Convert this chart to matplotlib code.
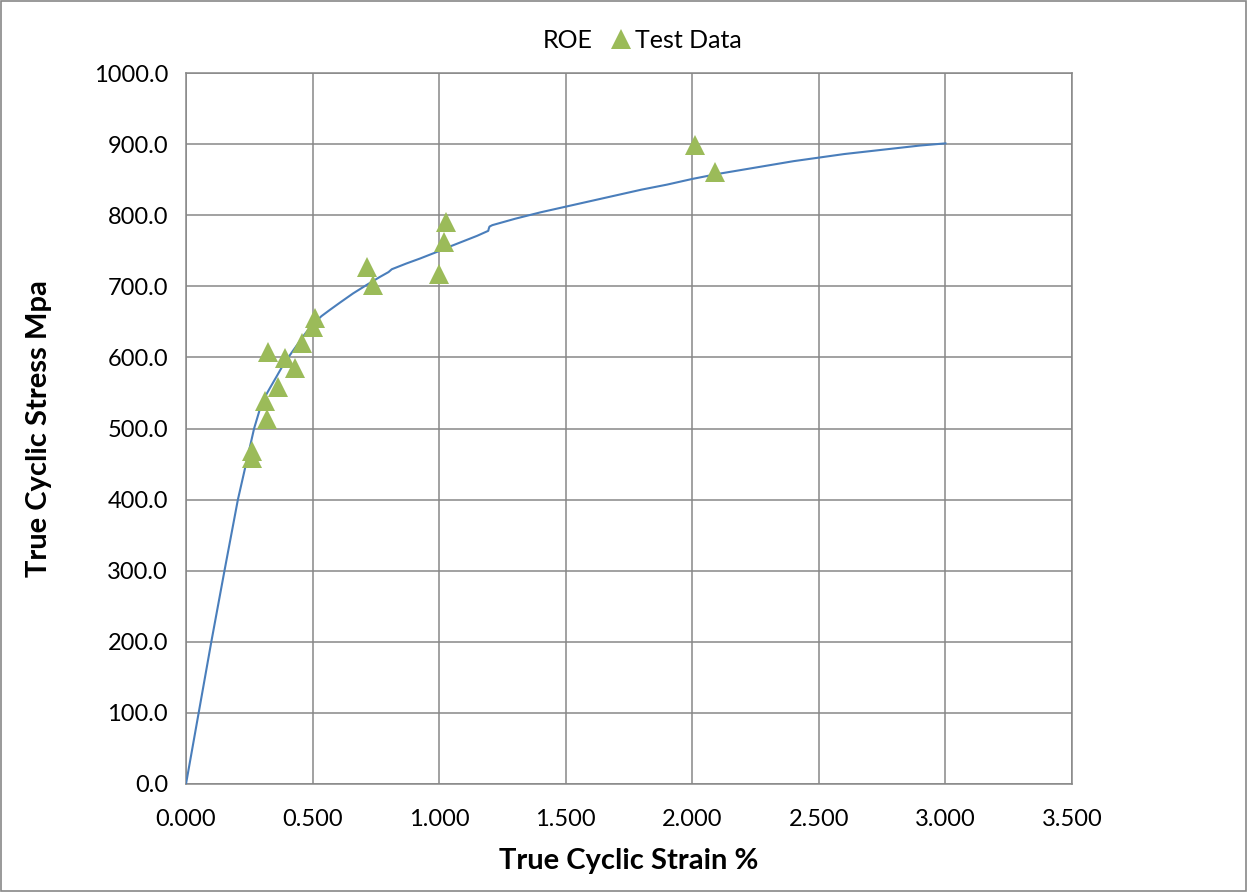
import matplotlib.pyplot as plt
from matplotlib.lines import Line2D
from matplotlib.patches import Rectangle
from matplotlib.ticker import FormatStrFormatter, MultipleLocator

plt.rcParams['font.family'] = ['Lato', 'DejaVu Sans']

# ROE curve, strain % / stress MPa
roe_strain = [0.0, 0.05, 0.10, 0.152, 0.205, 0.237, 0.269, 0.29, 0.308,
              0.33, 0.356, 0.38, 0.41, 0.44, 0.47, 0.50, 0.535, 0.569, 0.608,
              0.66, 0.714, 0.765, 0.80, 0.813,
              0.87, 0.924, 1.003, 1.05, 1.10, 1.15, 1.194,
              1.196, 1.199, 1.21, 1.3, 1.4, 1.5, 1.6, 1.7, 1.8, 1.9,
              2.0, 2.1, 2.2, 2.3, 2.4, 2.5, 2.6, 2.7, 2.8, 2.9, 3.0]
roe_stress = [0, 100, 200, 300, 400, 450, 500, 525, 542,
              556, 572, 587, 603, 618, 633, 646, 658, 667, 677,
              690, 702, 713, 720, 724,
              732, 739, 750, 757, 764, 771, 778,
              781, 784, 786, 795, 804, 812, 820, 828, 836, 843,
              851, 858, 864, 870, 876, 881, 886, 890, 894, 898, 901]

# test data points
test_strain = [0.262, 0.262, 0.319, 0.312, 0.365, 0.323, 0.391, 0.431, 0.457, 0.503,
               0.51, 0.716, 0.740, 1.001, 1.019, 1.027, 2.011, 2.090]
test_stress = [468, 458, 513, 538, 559, 607, 599, 585, 620, 643,
               656, 727, 702, 718, 763, 791, 899, 861]

line_col = '#4A7EBB'
mark_col = '#9BBB59'
grid_col = '#878787'

fig = plt.figure(figsize=(12.47, 8.92), dpi=100)
ax = fig.add_axes([186/1247, 1-784/892, (1072-186)/1247, (784-73)/892])

ax.plot(roe_strain, roe_stress, color=line_col, linewidth=1.5, zorder=3)
ax.plot(test_strain, test_stress, linestyle='none', marker='^', markersize=14,
        color=mark_col, markeredgewidth=0, zorder=4)

ax.set_xlim(0, 3.5)
ax.set_ylim(0, 1000)
ax.xaxis.set_major_locator(MultipleLocator(0.5))
ax.yaxis.set_major_locator(MultipleLocator(100))
ax.xaxis.set_major_formatter(FormatStrFormatter('%.3f'))
ax.yaxis.set_major_formatter(FormatStrFormatter('%.1f'))
ax.grid(True, color=grid_col, linewidth=1.1)
ax.set_axisbelow(True)
for s in ax.spines.values():
    s.set_color(grid_col)
    s.set_linewidth(1.1)
ax.tick_params(axis='x', labelsize=17, length=0, pad=18)
ax.tick_params(axis='y', labelsize=17, length=0, pad=13)

ax.set_xlabel('True Cyclic Strain %', fontsize=21, fontweight='bold', labelpad=13)
ax.set_ylabel('True Cyclic Stress Mpa', fontsize=21, fontweight='bold', labelpad=30)

handles = [Line2D([], [], linestyle='none'),
           Line2D([], [], linestyle='none', marker='^', markersize=14,
                  color=mark_col, markeredgewidth=0)]
fig.legend(handles, ['ROE', 'Test Data'], loc='center', bbox_to_anchor=(0.505, 1-40/892),
           ncol=2, frameon=False, fontsize=18, handlelength=0.9, handletextpad=0.1,
           columnspacing=0.7)

fig.patches.append(Rectangle((0.001, 0.001), 0.998, 0.998, transform=fig.transFigure,
                             fill=False, edgecolor='#878787', linewidth=1.2))

fig.savefig('out.png', dpi=100)
